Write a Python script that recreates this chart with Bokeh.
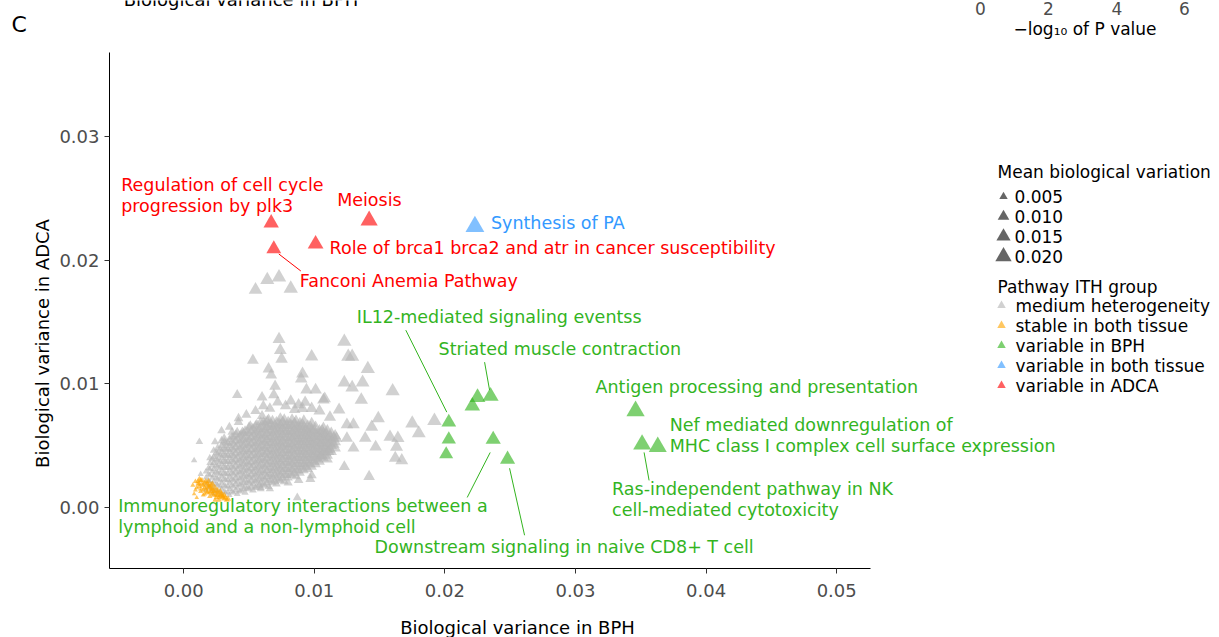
import math

from bokeh.core.properties import value
from bokeh.embed import file_html
from bokeh.models import ColumnDataSource, FixedTicker, NumeralTickFormatter, Range1d
from bokeh.plotting import figure
from bokeh.resources import INLINE

# ---------------------------------------------------------------- data
group_names = ["medium heterogeneity", "stable in both tissue", "variable in BPH",
               "variable in both tissue", "variable in ADCA"]
group_colors = ["#B5B5B5", "#FFA500", "#2EB31A", "#3399FF", "#FF0000"]

# dense core of medium-heterogeneity pathways (values in units of 1e-4):
# one y list for every x column
core_x_e4 = [17, 20, 23, 26, 29, 32, 35, 38, 41, 44, 47, 50, 53, 56, 59, 62, 65,
             68, 71, 74, 77, 80, 83, 86, 89, 92, 95, 98, 101, 104, 107, 110, 113, 116,
             19, 22, 25, 28, 31, 34, 37, 40, 43, 46, 49, 52, 55, 58, 61, 64, 67,
             70, 73, 76, 79, 82, 85, 88, 91, 94, 97, 100, 103, 106, 109, 112, 115]
core_y_e4 = [
    [14, 19, 24, 29],
    [16, 21, 26, 31, 36, 40],
    [11, 16, 21, 26, 31, 36, 41, 46],
    [13, 18, 23, 28, 33, 38, 43, 48],
    [10, 15, 20, 25, 30, 35, 40, 45, 50, 54],
    [12, 17, 22, 27, 32, 37, 42, 47, 52],
    [10, 15, 20, 25, 30, 35, 40, 45, 50, 55],
    [12, 17, 22, 27, 32, 37, 42, 47, 52, 57],
    [11, 16, 21, 26, 31, 36, 41, 46, 51, 56, 61],
    [14, 19, 24, 29, 34, 39, 44, 49, 54, 59],
    [12, 17, 22, 27, 32, 37, 42, 47, 52, 57, 62],
    [15, 20, 25, 30, 35, 40, 45, 50, 55, 60, 65],
    [14, 19, 24, 29, 34, 39, 44, 49, 54, 59, 64],
    [17, 22, 27, 32, 37, 42, 47, 52, 57, 62, 67],
    [15, 20, 25, 30, 35, 40, 45, 50, 55, 60, 65, 69],
    [18, 23, 28, 33, 38, 43, 48, 53, 58, 63, 68],
    [17, 22, 27, 32, 37, 42, 47, 52, 57, 62, 67, 71],
    [20, 25, 30, 35, 40, 45, 50, 55, 60, 65, 70],
    [19, 24, 29, 34, 39, 44, 49, 54, 59, 64, 69],
    [22, 27, 32, 37, 42, 47, 52, 57, 62, 67, 72],
    [21, 26, 31, 36, 41, 46, 51, 56, 61, 66, 71],
    [24, 29, 34, 39, 44, 49, 54, 59, 64, 69],
    [26, 31, 36, 41, 46, 51, 56, 61, 66, 71],
    [25, 30, 35, 40, 45, 50, 55, 60, 65, 70],
    [28, 33, 38, 43, 48, 53, 58, 63, 68],
    [30, 35, 40, 45, 50, 55, 60, 65, 70],
    [31, 36, 41, 46, 51, 56, 61, 66],
    [33, 38, 43, 48, 53, 58, 63, 68],
    [35, 40, 45, 50, 55, 60, 65],
    [37, 42, 47, 52, 57, 62],
    [40, 45, 50, 55, 60, 64],
    [42, 47, 52, 57, 62],
    [45, 50, 55, 60],
    [48, 53, 58],
    [17, 22, 27, 32],
    [14, 19, 24, 29, 34, 39],
    [14, 19, 24, 29, 34, 39, 44],
    [12, 17, 22, 27, 32, 37, 42, 47],
    [13, 18, 23, 28, 33, 38, 43, 48, 53],
    [12, 17, 22, 27, 32, 37, 42, 47, 52],
    [13, 18, 23, 28, 33, 38, 43, 48, 53, 57],
    [14, 19, 24, 29, 34, 39, 44, 49, 54, 59],
    [13, 18, 23, 28, 33, 38, 43, 48, 53, 58],
    [15, 20, 25, 30, 35, 40, 45, 50, 55, 60],
    [16, 21, 26, 31, 36, 41, 46, 51, 56, 61],
    [17, 22, 27, 32, 37, 42, 47, 52, 57, 62],
    [16, 21, 26, 31, 36, 41, 46, 51, 56, 61, 66],
    [18, 23, 28, 33, 38, 43, 48, 53, 58, 63],
    [19, 24, 29, 34, 39, 44, 49, 54, 59, 64, 69],
    [20, 25, 30, 35, 40, 45, 50, 55, 60, 65, 70],
    [22, 27, 32, 37, 42, 47, 52, 57, 62, 67],
    [21, 26, 31, 36, 41, 46, 51, 56, 61, 66],
    [23, 28, 33, 38, 43, 48, 53, 58, 63, 68],
    [24, 29, 34, 39, 44, 49, 54, 59, 64, 69],
    [26, 31, 36, 41, 46, 51, 56, 61, 66],
    [27, 32, 37, 42, 47, 52, 57, 62, 67],
    [28, 33, 38, 43, 48, 53, 58, 63, 68],
    [30, 35, 40, 45, 50, 55, 60, 65],
    [32, 37, 42, 47, 52, 57, 62, 67],
    [33, 38, 43, 48, 53, 58, 63],
    [35, 40, 45, 50, 55, 60, 65],
    [37, 42, 47, 52, 57, 62],
    [39, 44, 49, 54, 59],
    [42, 47, 52, 57, 62],
    [44, 49, 54, 59],
    [47, 52, 57],
    [51, 56],
]

# scattered medium-heterogeneity pathways
medium_x = [0.0055, 0.0064, 0.0073, 0.0082,
            0.0073, 0.0074, 0.0075, 0.0053, 0.0098, 0.0065, 0.0067, 0.0091, 0.0090, 0.0041,
            0.0070, 0.0069, 0.0094, 0.0101, 0.0082, 0.0060, 0.0061, 0.0107, 0.0093, 0.0091,
            0.0042, 0.0060,
            0.0123, 0.0126, 0.0129, 0.0141, 0.0123, 0.0129, 0.0137, 0.0160, 0.0136, 0.0119,
            0.0108, 0.0149, 0.0144, 0.0130, 0.0125, 0.0175, 0.0192, 0.0180, 0.0158, 0.0164,
            0.0139, 0.0125, 0.0117, 0.0147, 0.0163, 0.0130, 0.0111, 0.0162, 0.0167, 0.0123,
            0.0142,
            0.0042, 0.0051, 0.0037, 0.0045, 0.0012, 0.0024, 0.0031, 0.0008, 0.0013, 0.0080,
            0.0088, 0.0097, 0.0059, 0.0066, 0.0105, 0.0110, 0.0098, 0.0087,
            0.0048, 0.0055, 0.0078, 0.0085, 0.0066, 0.0072, 0.0098, 0.0104, 0.0035, 0.0029,
            0.0112, 0.0088]
medium_y = [0.0176, 0.0184, 0.0186, 0.0177,
            0.0136, 0.0127, 0.0120, 0.0119, 0.0122, 0.0112, 0.0107, 0.0108, 0.0104, 0.0091,
            0.0098, 0.0091, 0.0095, 0.0095, 0.0086, 0.0089, 0.0082, 0.0087, 0.0085, 0.0080,
            0.0072, 0.0074,
            0.0134, 0.0122, 0.0122, 0.0112, 0.0101, 0.0097, 0.0101, 0.0094, 0.0087, 0.0079,
            0.0088, 0.0072, 0.0065, 0.0067, 0.0067, 0.0068, 0.0070, 0.0060, 0.0057, 0.0056,
            0.0056, 0.0056, 0.0056, 0.0049, 0.0049, 0.0048, 0.0045, 0.0040, 0.0038, 0.0033,
            0.0025,
            0.0069, 0.0066, 0.0061, 0.0061, 0.0053, 0.0053, 0.0056, 0.0038, 0.0027, 0.0020,
            0.0022, 0.0023, 0.0016, 0.0015, 0.0041, 0.0039, 0.0026, 0.0008,
            0.0075, 0.0078, 0.0082, 0.0079, 0.0080, 0.0085, 0.0080, 0.0078, 0.0065, 0.0062,
            0.0073, 0.0083]

stable_x = [0.0009, 0.0012, 0.0014, 0.0010, 0.0017, 0.0016, 0.0019, 0.0013, 0.0008, 0.0021,
            0.0018, 0.0023, 0.0025, 0.0020, 0.0027, 0.0029, 0.0031, 0.0033, 0.0015, 0.0011,
            0.0022, 0.0026, 0.0007, 0.0010, 0.0024, 0.0028, 0.0030,
            0.0013, 0.0019, 0.0021, 0.0024, 0.0026, 0.0028, 0.0030, 0.0012, 0.0015, 0.0017,
            0.0020, 0.0022, 0.0025, 0.0018, 0.0009,
            0.0011, 0.0014, 0.0016, 0.0019, 0.0021, 0.0023, 0.0026, 0.0029, 0.0031, 0.0027,
            0.0018, 0.0016, 0.0013, 0.0020, 0.0024, 0.0032, 0.0034, 0.0012, 0.0015, 0.0022]
stable_y = [0.0021, 0.0023, 0.0019, 0.0016, 0.0021, 0.0016, 0.0018, 0.0013, 0.0011, 0.0015,
            0.0012, 0.0013, 0.0010, 0.0009, 0.0008, 0.0011, 0.0007, 0.0006, 0.0010, 0.0019,
            0.0019, 0.0014, 0.0018, 0.0008, 0.0006, 0.0013, 0.0009,
            0.0022, 0.0021, 0.0018, 0.0016, 0.0012, 0.0010, 0.0008, 0.0017, 0.0014, 0.0015,
            0.0012, 0.0011, 0.0008, 0.0019, 0.0014,
            0.0021, 0.0022, 0.0020, 0.0016, 0.0013, 0.0010, 0.0010, 0.0009, 0.0010, 0.0006,
            0.0013, 0.0011, 0.0015, 0.0017, 0.0013, 0.0008, 0.0007, 0.0019, 0.0018, 0.0015]

bph_x = [0.0203, 0.0203, 0.0201, 0.0225, 0.0235, 0.0221, 0.0237, 0.0248, 0.0346, 0.0351, 0.0363]
bph_y = [0.0069, 0.0055, 0.0043, 0.0089, 0.0090, 0.0082, 0.0055, 0.0039, 0.0078, 0.0051, 0.0049]

both_x = [0.0223]
both_y = [0.0227]

adca_x = [0.0067, 0.0069, 0.0101, 0.0142]
adca_y = [0.0230, 0.0209, 0.0213, 0.0232]

size_breaks = [0.005, 0.010, 0.015, 0.020]
x_ticks = [0.00, 0.01, 0.02, 0.03, 0.04, 0.05]
y_ticks = [0.00, 0.01, 0.02, 0.03]

# named pathways: (group, index of the point in that group, text lines)
annotated = [
    ("variable in ADCA", 0, ["Regulation of cell cycle", "progression by plk3"]),
    ("variable in ADCA", 3, ["Meiosis"]),
    ("variable in both tissue", 0, ["Synthesis of PA"]),
    ("variable in ADCA", 2, ["Role of brca1 brca2 and atr in cancer susceptibility"]),
    ("variable in ADCA", 1, ["Fanconi Anemia Pathway"]),
    ("variable in BPH", 0, ["IL12-mediated signaling eventss"]),
    ("variable in BPH", 4, ["Striated muscle contraction"]),
    ("variable in BPH", 8, ["Antigen processing and presentation"]),
    ("variable in BPH", 10, ["Nef mediated downregulation of",
                             "MHC class I complex cell surface expression"]),
    ("variable in BPH", 9, ["Ras-independent pathway in NK", "cell-mediated cytotoxicity"]),
    ("variable in BPH", 6, ["Immunoregulatory interactions between a",
                            "lymphoid and a non-lymphoid cell"]),
    ("variable in BPH", 7, ["Downstream signaling in naive CD8+ T cell"]),
]

# ---------------------------------------------------------------- layout
W, H = 1219, 637
LEFT, BOTTOM = 109, 69            # where the two axes meet, from the left / bottom edge
AXIS_X = (-0.00568, 0.05259)      # drawn extent of the x axis
AXIS_Y = (-0.00493, 0.03678)      # drawn extent of the y axis
AXIS_LEN_X, AXIS_LEN_Y = 761, 516
KX = AXIS_LEN_X / (AXIS_X[1] - AXIS_X[0])   # px per data unit
KY = AXIS_LEN_Y / (AXIS_Y[1] - AXIS_Y[0])
X_START = AXIS_X[0] - LEFT / KX
Y_START = AXIS_Y[0] - BOTTOM / KY


def px_x(px):
    return X_START + px / KX


def px_y(py):
    return Y_START + (H - py) / KY


def marker_size(v):
    # area grows with the mean biological variation
    return math.sqrt(5 + 11700 * v) / 0.87


FONT = "DejaVu Sans"
ALPHA = 0.62
LINE_GAP = 21

# label placement in px relative to its point: (dx, dy of first line, connector)
label_layout = [
    (-150, -38, None),
    (-32, -21, None),
    (16, -4, None),
    (14, 4, None),
    (26, 32, (5, 5, 27, 22)),
    (-92, -105, (-2, -10, -43, -92)),
    (-52, -47, (-1, -6, -6, -34)),
    (-40, -24, None),
    (12, -22, None),
    (-30, 45, (2, 8, 7, 36)),
    (-375, 67, (-3, 13, -26, 58)),
    (-133, 88, (2, 9, 17, 76)),
]

# the frame fills the whole canvas; the axes are pinned at the lower-left corner
p = figure(width=W, height=H,
           x_range=Range1d(X_START, X_START + W / KX),
           y_range=Range1d(Y_START, Y_START + H / KY),
           min_border_left=0, min_border_right=0, min_border_top=0, min_border_bottom=0,
           toolbar_location=None, output_backend="svg",
           background_fill_color="white", border_fill_color="white")
p.outline_line_color = None
p.xgrid.visible = False
p.ygrid.visible = False

p.xaxis.fixed_location = AXIS_Y[0]
p.yaxis.fixed_location = AXIS_X[0]
p.xaxis.bounds = AXIS_X
p.yaxis.bounds = AXIS_Y
p.xaxis.ticker = FixedTicker(ticks=x_ticks)
p.yaxis.ticker = FixedTicker(ticks=y_ticks)
p.xaxis.formatter = NumeralTickFormatter(format="0.00")
p.yaxis.formatter = NumeralTickFormatter(format="0.00")
for ax in (p.xaxis[0], p.yaxis[0]):
    ax.axis_line_color = "black"
    ax.axis_line_width = 1
    ax.major_tick_line_color = "#333333"
    ax.major_tick_out = 5
    ax.major_tick_in = 0
    ax.minor_tick_line_color = None
    ax.major_label_text_font = FONT
    ax.major_label_text_font_size = "18px"
    ax.major_label_text_color = "#4D4D4D"
p.xaxis.major_label_standoff = 10
p.yaxis.major_label_standoff = 5

text_style = dict(text_font=value(FONT), text_baseline="middle")

# axis titles
p.text([px_x(517)], [px_y(627)], text=["Biological variance in BPH"], text_color="black",
       text_font_size="18px", text_align="center", **text_style)
p.text([px_x(42)], [px_y(343)], text=["Biological variance in ADCA"], text_color="black",
       text_font_size="18px", text_align="center", angle=math.pi / 2, **text_style)

# points
core_x, core_y = [], []
for cx, col in zip(core_x_e4, core_y_e4):
    for cy in col:
        core_x.append(cx * 1e-4)
        core_y.append(cy * 1e-4)

series = {
    "medium heterogeneity": (core_x + medium_x, core_y + medium_y),
    "stable in both tissue": (stable_x, stable_y),
    "variable in BPH": (bph_x, bph_y),
    "variable in both tissue": (both_x, both_y),
    "variable in ADCA": (adca_x, adca_y),
}
colors = dict(zip(group_names, group_colors))
text_colors = dict(zip(group_names, ["#999999", "#FFA500", "#33B41F", "#3399FF", "#FF0000"]))

for name in group_names:
    xs, ys = series[name]
    src = ColumnDataSource(dict(x=xs, y=ys,
                                s=[marker_size((a + b) / 2) for a, b in zip(xs, ys)]))
    p.scatter("x", "y", size="s", source=src, marker="triangle",
              fill_color=colors[name], fill_alpha=ALPHA, line_color=None)

# pathway names and connector lines
lab = dict(x=[], y=[], text=[], color=[])
seg = dict(x0=[], y0=[], x1=[], y1=[], color=[])
for (grp, idx, lines), (dx, dy, conn) in zip(annotated, label_layout):
    px0, py0 = series[grp][0][idx], series[grp][1][idx]
    for k, line in enumerate(lines):
        lab["x"].append(px0 + dx / KX)
        lab["y"].append(py0 - (dy + k * LINE_GAP) / KY)
        lab["text"].append(line)
        lab["color"].append(text_colors[grp])
    if conn:
        a, b, c, d = conn
        seg["x0"].append(px0 + a / KX)
        seg["y0"].append(py0 - b / KY)
        seg["x1"].append(px0 + c / KX)
        seg["y1"].append(py0 - d / KY)
        seg["color"].append(text_colors[grp])

p.segment("x0", "y0", "x1", "y1", source=ColumnDataSource(seg), line_color="color",
          line_width=1)
p.text("x", "y", text="text", source=ColumnDataSource(lab), text_color="color",
       text_font_size="17.5px", text_align="left", **text_style)

# legends
leg_text = dict(x=[], y=[], text=[])


def legend_line(px, py, txt):
    leg_text["x"].append(px_x(px))
    leg_text["y"].append(px_y(py))
    leg_text["text"].append(txt)


legend_line(997, 171, "Mean biological variation")
size_rows = [196, 216, 236, 256]
p.scatter([px_x(1003)] * len(size_breaks), [px_y(r) for r in size_rows],
          size=[marker_size(v) * 0.92 for v in size_breaks], marker="triangle",
          fill_color="#666666", line_color=None)
for r, v in zip(size_rows, size_breaks):
    legend_line(1014, r, f"{v:.3f}")

legend_line(997, 286, "Pathway ITH group")
group_rows = [305, 325, 345, 365, 385]
p.scatter([px_x(1001)] * len(group_names), [px_y(r) for r in group_rows],
          size=8.5, marker="triangle", fill_color=group_colors, fill_alpha=ALPHA,
          line_color=None)
for r, name in zip(group_rows, group_names):
    legend_line(1015, r, name)

p.text("x", "y", text="text", source=ColumnDataSource(leg_text), text_color="black",
       text_font_size="17px", text_align="left", **text_style)

# panel letter and the pieces of the neighbouring panels above
p.text([px_x(11)], [px_y(24)], text=["C"], text_color="black", text_font_size="22px",
       text_align="left", **text_style)
p.text([px_x(240.5)], [px_y(-1)], text=["Biological variance in BPH"], text_color="black",
       text_font_size="18px", text_align="center", **text_style)
p.text([px_x(v) for v in (980, 1048, 1116.5, 1184)], [px_y(7.5)] * 4,
       text=["0", "2", "4", "6"], text_color="#4D4D4D", text_font_size="17px",
       text_align="center", **text_style)
p.text([px_x(1013)], [px_y(28)], text=["\u2212log\u2081\u2080 of P value"],
       text_color="black", text_font_size="17px", text_align="left", **text_style)

open("out.html", "w").write(file_html(p, INLINE, title="Pathway biological variance"))
